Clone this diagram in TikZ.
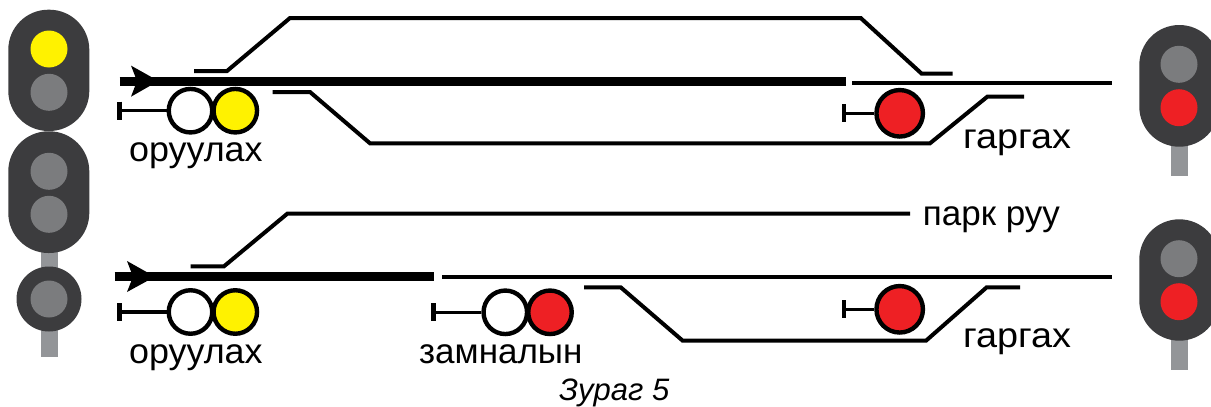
\documentclass[tikz,border=0pt]{standalone}
\usepackage{fontspec}
\usepackage{graphicx}
\setmainfont{Liberation Sans}
\definecolor{headc}{HTML}{3C3C3E}
\definecolor{lensc}{HTML}{7B7C7E}
\definecolor{postc}{HTML}{939598}
\definecolor{yel}{HTML}{FFF200}
\definecolor{redl}{HTML}{EE2024}
\tikzset{
  head/.style={fill=headc,rounded corners=40pt},
  post/.style={fill=postc},
  lens/.style={circle,inner sep=0pt,minimum size=37pt},
  sig/.style={circle,draw=black,line width=4.4pt,inner sep=0pt,minimum size=43.5pt},
  redsig/.style={sig,fill=redl,minimum size=46.5pt},
  track/.style={line width=4pt,black},
  main/.style={line width=9pt,black},
  stem/.style={line width=3.2pt,black},
  barl/.style={line width=4.4pt,black},
  lbl/.style={anchor=base west,inner sep=0pt,font=\fontsize{35}{35}\selectfont},
  captext/.style={anchor=base west,inner sep=0pt,font=\fontsize{31}{31}\selectfont\itshape},
  arrowtip/.style={fill=black}
}
\begin{document}
\begin{tikzpicture}[x=1pt,y=-1pt]
\useasboundingbox (0,0) rectangle (1211,407);
\clip (0,0) rectangle (1211,407);
% left signal mast
\fill[post] (41.3,250) rectangle (58,357);
\fill[head] (8.3,9.7) rectangle (89.3,131);
\fill[head] (8.3,131.3) rectangle (89.3,253);
\node[circle,fill=headc,inner sep=0pt,minimum size=65pt] (dwarf) at (49,299) {};
\node[lens,fill=yel] (l1) at (49,49) {};
\node[lens,fill=lensc] (l2) at (49,92.3) {};
\node[lens,fill=lensc] (l3) at (49,171.3) {};
\node[lens,fill=lensc] (l4) at (49,214.3) {};
\node[lens,fill=lensc] (l5) at (49,299) {};
% right signals
\fill[post] (1171,140) rectangle (1187.7,176);
\fill[head] (1139.3,25) rectangle (1219.3,146.7);
\node[lens,fill=lensc] (r1) at (1179,64.3) {};
\node[lens,fill=redl] (r2) at (1179,107.7) {};
\fill[post] (1171,335) rectangle (1187.7,370);
\fill[head] (1139.3,219.3) rectangle (1219.3,340.7);
\node[lens,fill=lensc] (r3) at (1179,258.7) {};
\node[lens,fill=redl] (r4) at (1179,301.7) {};
% track points, upper
\coordinate (a0) at (119.5,81); \coordinate (a1) at (845.7,81);
\coordinate (b0) at (852.3,82.7); \coordinate (b1) at (1111.7,82.7);
\coordinate (c0) at (194,71); \coordinate (c1) at (227,71); \coordinate (c2) at (290,18);
\coordinate (c3) at (860.7,18); \coordinate (c4) at (921.7,73.7); \coordinate (c5) at (952.7,73.7);
\coordinate (d0) at (272.7,92); \coordinate (d1) at (310,92); \coordinate (d2) at (370,143.3);
\coordinate (d3) at (930,143.3); \coordinate (d4) at (987.3,96.7); \coordinate (d5) at (1024,96.7);
% track points, lower
\coordinate (e0) at (114.5,276.7); \coordinate (e1) at (434,276.7);
\coordinate (f0) at (442,276.7); \coordinate (f1) at (1111.7,276.7);
\coordinate (g0) at (190.7,266.3); \coordinate (g1) at (224,266.3); \coordinate (g2) at (287.3,213.7);
\coordinate (g3) at (910,213.7);
\coordinate (h0) at (584,287.3); \coordinate (h1) at (620.7,287.3); \coordinate (h2) at (682.7,340.7);
\coordinate (h3) at (926,340.7); \coordinate (h4) at (986.7,287.3); \coordinate (h5) at (1020,287.3);
\draw[main] (a0) -- (a1);
\draw[main] (e0) -- (e1);
\draw[track] (b0) -- (b1);
\draw[track] (f0) -- (f1);
\draw[track] (c0) -- (c1) -- (c2) -- (c3) -- (c4) -- (c5);
\draw[track] (d0) -- (d1) -- (d2) -- (d3) -- (d4) -- (d5);
\draw[track] (g0) -- (g1) -- (g2) -- (g3);
\draw[track] (h0) -- (h1) -- (h2) -- (h3) -- (h4) -- (h5);
% arrowheads
\fill[arrowtip] (131,65.6) -- (158.5,81) -- (131,96.7) -- (137,81) -- cycle;
\fill[arrowtip] (127,261) -- (155,276.7) -- (127,292) -- (133,276.7) -- cycle;
% line-side signals
\node[sig,fill=white] (w1) at (190.5,110.7) {};
\node[sig,fill=yel] (y1) at (235.3,110.7) {};
\node[redsig] (s1) at (899.7,113.3) {};
\node[sig,fill=white] (w2) at (190.5,312) {};
\node[sig,fill=yel] (y2) at (235.3,312) {};
\node[sig,fill=white] (w3) at (505.3,312.3) {};
\node[sig,fill=redl] (s3) at (550,312.3) {};
\node[redsig] (s2) at (899.7,309.3) {};
\coordinate (t1) at (119.3,110.7); \coordinate (t2) at (844,113.3);
\coordinate (t3) at (119.3,312); \coordinate (t4) at (433.3,312.3); \coordinate (t5) at (844,309.3);
\draw[stem] (t1) -- (w1);
\draw[stem] (t2) -- (s1);
\draw[stem] (t3) -- (w2);
\draw[stem] (t4) -- (w3);
\draw[stem] (t5) -- (s2);
\foreach \t in {t1,t2,t3,t4,t5} \draw[barl] ([yshift=9pt]\t) -- ([yshift=-9pt]\t);
% labels
\node[lbl] (n1) at (129,161) {\scalebox{1.025}[1]{оруулах}};
\node[lbl] (n2) at (963,148) {\scalebox{1.08}[1]{гаргах}};
\node[lbl] (n3) at (922.7,225) {парк руу};
\node[lbl] (n4) at (129,363) {\scalebox{1.025}[1]{оруулах}};
\node[lbl] (n5) at (419,363) {замналын};
\node[lbl] (n6) at (963,347) {\scalebox{1.08}[1]{гаргах}};
\node[captext] (n7) at (559,400) {Зураг 5};
\end{tikzpicture}
\end{document}
